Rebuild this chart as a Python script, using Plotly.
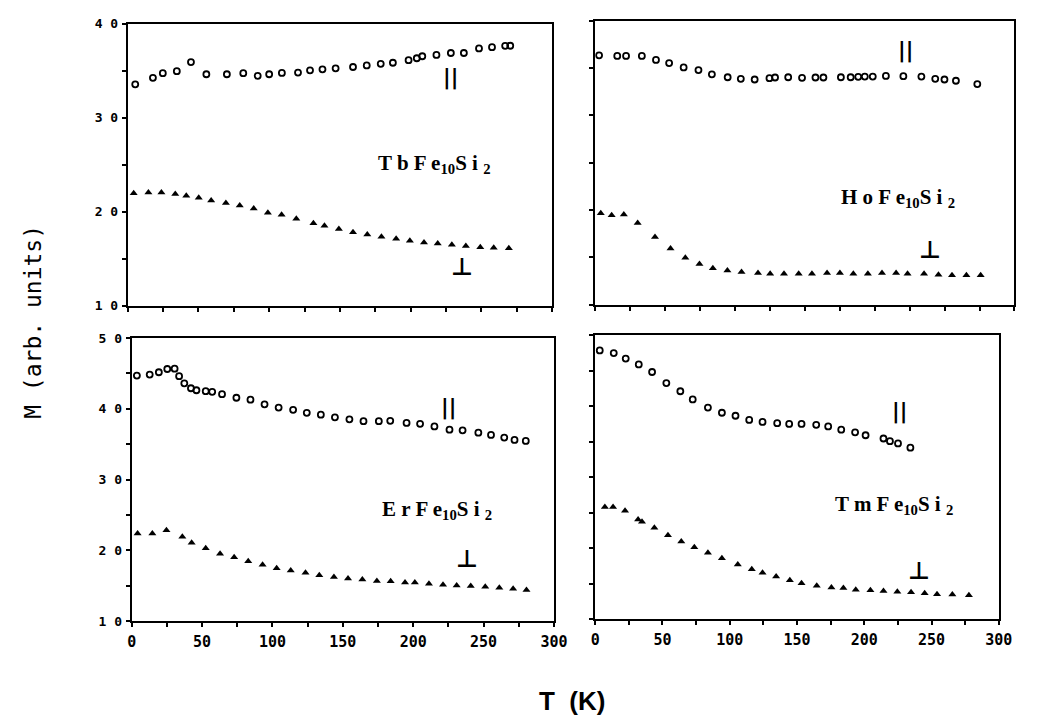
import plotly.graph_objects as go

# ---------------- data ----------------
tb_par_T = [5.3, 17.8, 24.8, 34.7, 44.7, 55.6, 70.1, 81.7, 91.9, 100, 109, 120.4, 128.9, 137.7, 147,
            159.3, 169, 178.9, 187.5, 198.6, 204.4, 208.3, 218.3, 228.5, 237.7, 248.4, 257.6, 266.9, 270.5]
tb_par_M = [33.55, 34.24, 34.73, 34.94, 35.91, 34.62, 34.62, 34.73, 34.45, 34.62, 34.76, 34.80, 35.04, 35.14, 35.25,
            35.39, 35.56, 35.73, 35.84, 36.12, 36.32, 36.53, 36.67, 36.88, 36.88, 37.36, 37.50, 37.64, 37.65]
tb_perp_T = [4.2, 14.6, 23.8, 33.6, 41.4, 50.2, 59, 69.4, 79.2, 89.1, 99.1, 108.8, 119.2, 131.3, 139.1,
             149.3, 159.3, 169.4, 179.4, 189.8, 199.5, 209.5, 219.2, 229.2, 239.1, 249.3, 258.8, 269.5]
tb_perp_M = [21.96, 22.03, 22.03, 21.89, 21.69, 21.48, 21.2, 20.92, 20.65, 20.33, 19.88, 19.67, 19.26, 18.77, 18.49,
             18.15, 17.80, 17.56, 17.32, 17.11, 16.90, 16.73, 16.62, 16.49, 16.35, 16.21, 16.17, 16.1]

ho_par_T = [2.8, 15.8, 22.1, 33.4, 43.5, 52.9, 63.3, 73.9, 83.5, 94.8, 104.2, 114.1, 124.7, 128.7, 138.1,
            148, 157.6, 163.3, 175.8, 182.8, 188.2, 192.9, 198.6, 208, 220.5, 233.4, 243.3, 249.9, 258.1, 273.4]
ho_par_M = [36.34, 36.28, 36.28, 36.28, 35.86, 35.52, 35.07, 34.79, 34.34, 34.03, 33.86, 33.79, 33.93, 34.0, 34.03,
            33.97, 34.0, 34.0, 34.03, 34.03, 34.07, 34.10, 34.10, 34.17, 34.14, 34.10, 33.86, 33.79, 33.66, 33.31]
ho_perp_T = [4.0, 11.8, 20.5, 30.4, 42.8, 53.9, 64.5, 74.6, 84.2, 94.6, 104.7, 116.5, 125.2, 135.1, 145.6,
             155.1, 165.9, 175.1, 184.7, 195.1, 205.2, 215.3, 223.5, 235.3, 245.6, 255.3, 265.6, 275.8]
ho_perp_M = [19.66, 19.45, 19.52, 18.62, 17.14, 15.93, 14.97, 14.31, 13.86, 13.62, 13.45, 13.34, 13.28, 13.28, 13.28,
             13.28, 13.34, 13.34, 13.28, 13.28, 13.34, 13.34, 13.28, 13.28, 13.17, 13.10, 13.10, 13.10]

er_par_T = [3.7, 12.8, 19.3, 25.3, 30.5, 33.7, 37.4, 42.1, 46.0, 52.6, 57.2, 64.2, 74.4, 84.4, 94.4, 104.4,
            114.7, 124.4, 134.4, 144.4, 154.7, 164.7, 175.6, 183.7, 195.3, 204.9, 215.1, 225.8, 235.1, 246.3,
            255.3, 264.7, 272, 280]
er_par_M = [44.69, 44.83, 45.16, 45.62, 45.66, 44.60, 43.59, 42.90, 42.62, 42.48, 42.39, 42.06, 41.56, 41.28, 40.63,
            40.17, 39.85, 39.43, 39.16, 38.79, 38.51, 38.24, 38.24, 38.29, 38.0, 37.87, 37.50, 37.04, 36.95, 36.62,
            36.30, 35.93, 35.6, 35.45]
er_perp_T = [4.2, 14.7, 24.7, 36.0, 42.6, 52.6, 62.8, 72.8, 82.8, 93.0, 103.0, 113.0, 123.5, 133.3, 143.7,
             153.7, 163.9, 174.2, 184.0, 194.2, 201.2, 211.2, 221.2, 230.9, 240.9, 251.2, 261.2, 271, 280.5]
er_perp_M = [22.36, 22.36, 22.83, 21.90, 21.07, 20.29, 19.50, 19.00, 18.44, 17.94, 17.47, 17.15, 16.83, 16.46, 16.23,
             16.0, 15.86, 15.67, 15.62, 15.44, 15.44, 15.26, 15.12, 15.03, 14.94, 14.84, 14.71, 14.55, 14.4]

tm_par_T = [3.4, 13.8, 22.7, 32.4, 42.3, 52.9, 63.3, 72.5, 83.8, 94.2, 104.3, 114.5, 124.4, 135.3, 144.2,
            153.4, 164.3, 173.2, 182.9, 193.2, 201.0, 214.3, 219.1, 225.1, 234.3]
tm_par_M = [47.84, 47.47, 46.69, 45.86, 44.80, 43.24, 42.09, 40.94, 39.79, 39.06, 38.64, 38.05, 37.77, 37.59, 37.49,
            37.49, 37.36, 37.13, 36.67, 36.30, 35.89, 35.43, 35.06, 34.74, 34.14]
tm_perp_T = [7.2, 13.3, 22.2, 31.9, 34.8, 44.0, 54.1, 64.0, 73.7, 83.8, 94.2, 106.0, 116.4, 124.4, 134.5,
             144.7, 153.4, 164.7, 175.6, 184.5, 193.7, 204.6, 214.3, 224.6, 234.8, 244.9, 254.1, 265.5, 277.8]
tm_perp_M = [25.77, 25.77, 25.26, 24.02, 23.70, 22.87, 21.82, 20.94, 20.11, 19.33, 18.55, 17.68, 17.03, 16.53, 15.98,
             15.47, 15.06, 14.69, 14.46, 14.37, 14.14, 14.05, 13.95, 13.86, 13.77, 13.63, 13.49, 13.45, 13.36]

x_ticks = [0, 50, 100, 150, 200, 250, 300]
x_labels = ["0", "50", "100", "150", "200", "250", "300"]
y_ticks_top = [10, 20, 30, 40]
y_labels_top = ["1 0", "2 0", "3 0", "4 0"]
y_ticks_bot = [10, 20, 30, 40, 50]
y_labels_bot = ["1 0", "2 0", "3 0", "4 0", "5 0"]

compounds = ["T b F e<sub>10</sub>S i <sub>2</sub>", "H o F e<sub>10</sub>S i <sub>2</sub>",
             "E r F e<sub>10</sub>S i <sub>2</sub>", "T m F e<sub>10</sub>S i <sub>2</sub>"]

# ---------------- figure ----------------
W, H = 1055, 725
fig = go.Figure()

panels = [
    ("x", "y", tb_par_T, tb_par_M, tb_perp_T, tb_perp_M),
    ("x2", "y2", ho_par_T, ho_par_M, ho_perp_T, ho_perp_M),
    ("x3", "y3", er_par_T, er_par_M, er_perp_T, er_perp_M),
    ("x4", "y4", tm_par_T, tm_par_M, tm_perp_T, tm_perp_M),
]
for xa, ya, pT, pM, qT, qM in panels:
    fig.add_trace(go.Scatter(x=pT, y=pM, xaxis=xa, yaxis=ya, mode="markers", showlegend=False,
                             marker=dict(symbol="circle-open", size=6, color="black",
                                         line=dict(width=1.8, color="black"))))
    fig.add_trace(go.Scatter(x=qT, y=qM, xaxis=xa, yaxis=ya, mode="markers", showlegend=False,
                             marker=dict(symbol="triangle-up", size=7, color="black")))

tickfont = dict(family="DejaVu Sans Mono", color="black", weight="bold")


def px_dom(a, b, total):
    return [a / total, b / total]


def py_dom(top, bot):
    return [(H - bot) / H, (H - top) / H]


def xax(domain, anchor, show):
    return dict(domain=domain, anchor=anchor, range=[0, 300], showline=True, mirror=True,
                linecolor="black", linewidth=2, ticks="outside", ticklen=4, tickwidth=1.5,
                tickcolor="black", tickmode="array", tickvals=x_ticks, ticktext=x_labels,
                showticklabels=show,
                minor=dict(ticks="outside", tick0=0, dtick=25, ticklen=4, tickwidth=1.5, tickcolor="black",
                           showgrid=False),
                showgrid=False, zeroline=False, tickfont=dict(tickfont, size=15), ticklabelstandoff=2)


def yax(domain, anchor, rng, vals, labels, show):
    return dict(domain=domain, anchor=anchor, range=rng, showline=True, mirror=True,
                linecolor="black", linewidth=2, ticks="outside", ticklen=4, tickwidth=1.5,
                tickcolor="black", tickmode="array", tickvals=vals, ticktext=labels,
                showticklabels=show,
                minor=dict(ticks="outside", tick0=0, dtick=5, ticklen=4, tickwidth=1.5, tickcolor="black",
                           showgrid=False),
                showgrid=False, zeroline=False, tickfont=dict(tickfont, size=13), ticklabelstandoff=1)


fig.update_layout(
    width=W, height=H, margin=dict(l=0, r=0, t=0, b=0),
    paper_bgcolor="white", plot_bgcolor="white",
    xaxis=xax(px_dom(125, 557, W), "y", False),
    yaxis=yax(py_dom(17, 305), "x", [10, 40], y_ticks_top, y_labels_top, True),
    xaxis2=xax(px_dom(601, 1028, W), "y2", False),
    yaxis2=yax(py_dom(14, 304), "x2", [10, 40], y_ticks_top, y_labels_top, False),
    xaxis3=xax(px_dom(129, 559, W), "y3", True),
    yaxis3=yax(py_dom(338, 627), "x3", [10, 50], y_ticks_bot, y_labels_bot, True),
    xaxis4=xax(px_dom(601, 1012, W), "y4", True),
    yaxis4=yax(py_dom(335, 625), "x4", [10, 50], y_ticks_bot, y_labels_bot, False),
)

ann = []


def add_text(text, xpx, ypx, family, size, bold=True, angle=0):
    ann.append(dict(text=text, x=xpx / W, y=1 - ypx / H, xref="paper", yref="paper",
                    xanchor="center", yanchor="middle", showarrow=False, textangle=angle,
                    font=dict(family=family, size=size, color="black",
                              weight="bold" if bold else "normal")))


comp_pos = [(437, 160), (909, 195), (440, 514), (905, 509)]
par_pos = [(454, 72), (917, 44), (452, 409), (911, 413)]
perp_pos = [(465, 266), (942, 248), (470, 564), (931, 576)]
for c, (cx, cy), (ax_, ay_), (bx, by) in zip(compounds, comp_pos, par_pos, perp_pos):
    add_text(c, cx, cy, "Liberation Serif", 21)
    add_text("||", ax_, ay_, "DejaVu Sans", 21)
    add_text("⊥", bx, by, "DejaVu Sans", 24)

add_text("M (arb. units)", 29, 321, "DejaVu Sans Mono", 23, bold=False, angle=-90)
add_text("T  (K)", 577, 709, "Liberation Sans", 26)

fig.update_layout(annotations=ann)
fig.write_html("out.html")
